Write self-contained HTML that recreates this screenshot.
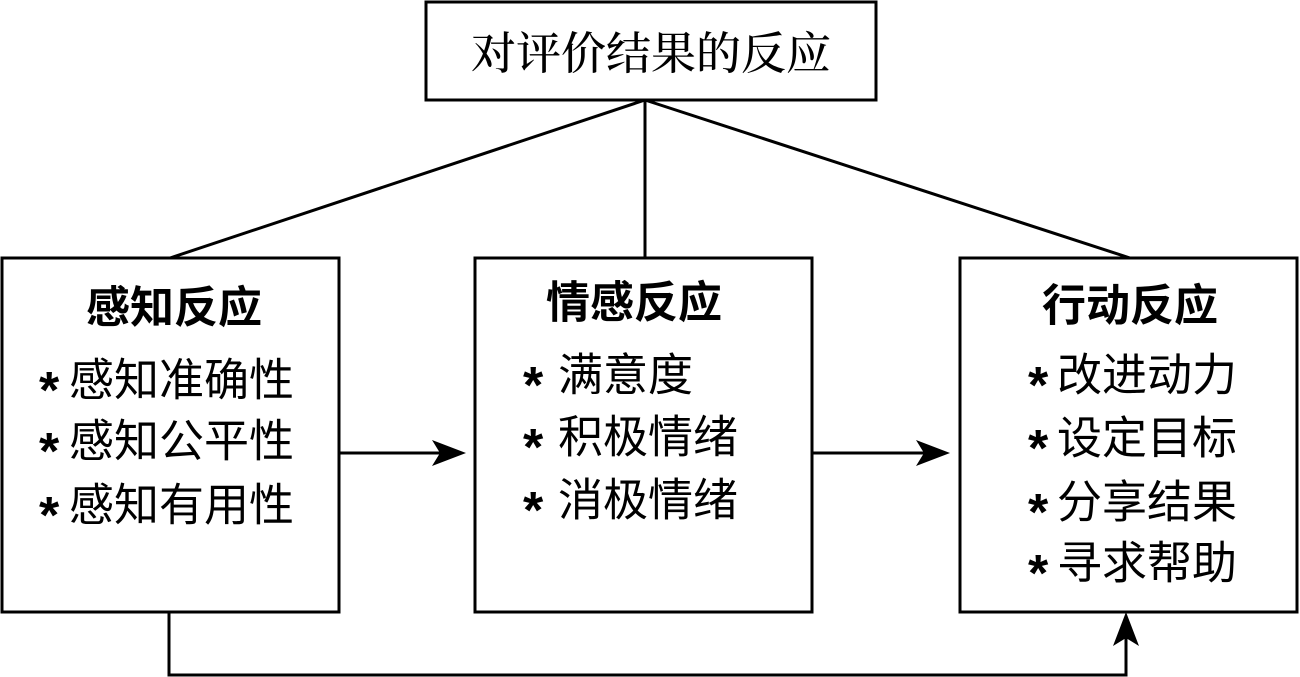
<!DOCTYPE html>
<html><head><meta charset="utf-8"><style>
html,body{margin:0;padding:0;background:#fff;}
svg{display:block;}
.t{font-family:"Liberation Sans","Noto Sans CJK SC",sans-serif;font-size:44px;font-weight:bold;dominant-baseline:central;}
.i{font-family:"Liberation Sans","Noto Sans CJK SC",sans-serif;font-size:45px;dominant-baseline:central;}
.h{font-family:"Liberation Serif","Noto Serif CJK SC",serif;font-size:45px;font-weight:500;dominant-baseline:central;}
.s{font-family:"Liberation Sans",sans-serif;font-size:52px;font-weight:bold;}
</style></head><body>
<svg width="1300" height="677" viewBox="0 0 1300 677" xmlns="http://www.w3.org/2000/svg">
<g fill="none" stroke="#000" stroke-width="3">
<rect x="426" y="2" width="450" height="98"/>
<rect x="2" y="258" width="337" height="354"/>
<rect x="475" y="258" width="337" height="354"/>
<rect x="960" y="258" width="337" height="354"/>
<line x1="645" y1="100" x2="170" y2="258"/>
<line x1="645" y1="100" x2="645" y2="258"/>
<line x1="645" y1="100" x2="1130" y2="258"/>
<line x1="339" y1="453" x2="445" y2="453"/>
<line x1="812" y1="453" x2="930" y2="453"/>
<polyline points="169,612 169,675 1126,675 1126,635"/>
</g>
<g fill="#000">
<polygon points="466,453 432,440 440,453 432,466"/>
<polygon points="950,453 916,440 924,453 916,466"/>
<polygon points="1126,612 1113,646 1126,638 1139,646"/>
</g>
<text class="h" x="651" y="54" text-anchor="middle">对评价结果的反应</text>
<text class="t" x="174" y="308" text-anchor="middle">感知反应</text>
<text class="t" x="634" y="303" text-anchor="middle">情感反应</text>
<text class="t" x="1130" y="306" text-anchor="middle">行动反应</text>
<g class="s">
<text x="39" y="408">*</text><text x="39" y="469">*</text><text x="39" y="533">*</text>
<text x="523" y="403">*</text><text x="523" y="465">*</text><text x="523" y="528">*</text>
<text x="1028" y="403">*</text><text x="1028" y="466">*</text><text x="1028" y="530">*</text><text x="1028" y="591">*</text>
</g>
<text class="i" x="69" y="380">感知准确性</text>
<text class="i" x="69" y="441">感知公平性</text>
<text class="i" x="69" y="505">感知有用性</text>
<text class="i" x="558" y="375">满意度</text>
<text class="i" x="558" y="437">积极情绪</text>
<text class="i" x="558" y="500">消极情绪</text>
<text class="i" x="1057" y="375">改进动力</text>
<text class="i" x="1057" y="438">设定目标</text>
<text class="i" x="1057" y="502">分享结果</text>
<text class="i" x="1057" y="563">寻求帮助</text>
</svg>
</body></html>
